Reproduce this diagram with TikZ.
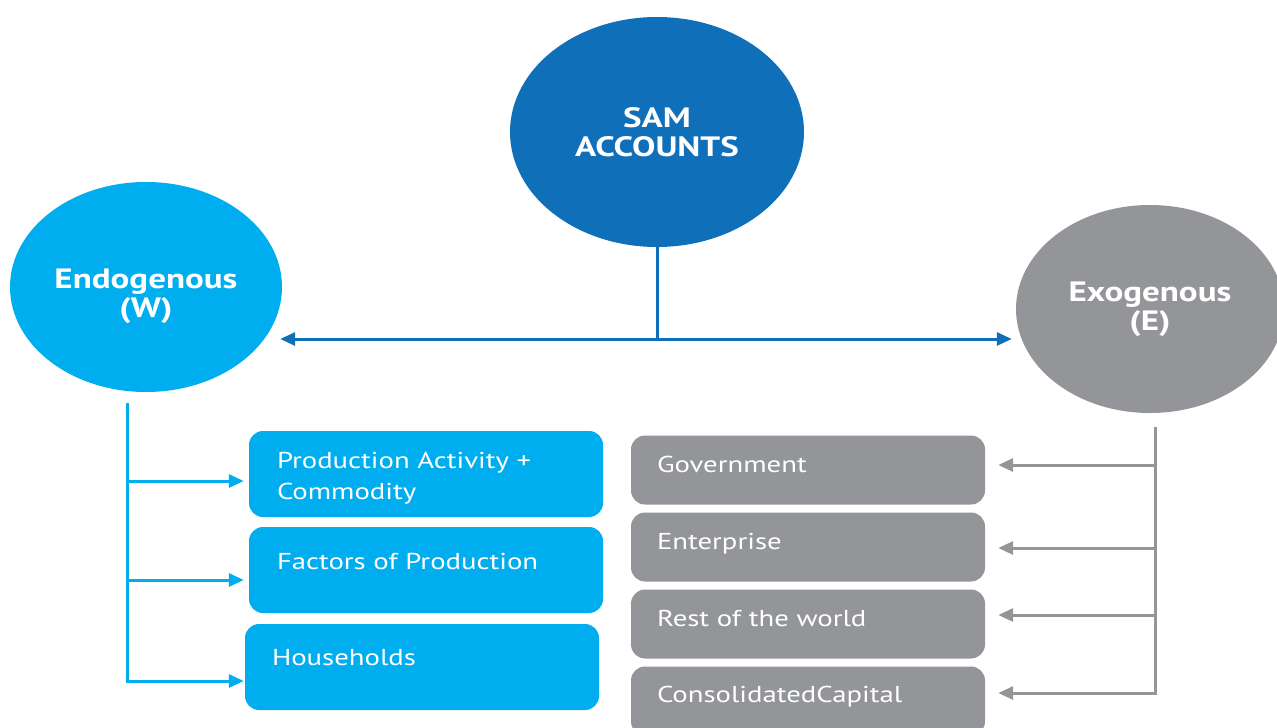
\documentclass[tikz,border=0pt]{standalone}
\usepackage{fontspec}
\setmainfont{PT Sans}[FakeStretch=1.25]
\usetikzlibrary{arrows.meta,shapes.geometric}

\definecolor{samblue}{RGB}{16,111,185}
\definecolor{endoblue}{RGB}{0,174,239}
\definecolor{exogray}{RGB}{147,149,152}

\begin{document}
\begin{tikzpicture}[x=1pt, y=-1pt,
    acct/.style={ellipse, fill=#1, inner sep=0pt},
    accttext/.style={text=white, align=center, inner sep=0pt,
                     font=\fontsize{28}{29}\selectfont\bfseries},
    accbox/.style={rectangle, rounded corners=14pt, fill=#1, inner sep=0pt, minimum width=354pt},
    boxtext/.style={anchor=base west, text=white, align=left, inner sep=0pt,
                    font=\fontsize{23}{31}\selectfont},
    link/.style={line width=3pt, draw=#1},
    tip/.style={-{Triangle[length=15pt,width=13pt]}}]
  \useasboundingbox (0,0) rectangle (1277,728);

  % the three account ellipses
  \node[acct=samblue, minimum width=294pt, minimum height=230pt] (sam)at(657, 132) {};
  \node[acct=endoblue, minimum width=272pt, minimum height=210pt] (endo)at(146, 287) {};
  \node[acct=exogray, minimum width=268pt, minimum height=208pt] (exo)at(1150, 309) {};
  \node[accttext] (samtxt)at(sam.center) {SAM\\ACCOUNTS};
  \node[accttext] (endotxt)at([yshift=-9pt]endo.center) {Endogenous\\(W)};
  \node[accttext] (exotxt)at(exo.center) {Exogenous\\(E)};

  % endogenous accounts
  \node[accbox=endoblue, minimum height=86pt] (prod)at(426, 474) {};
  \node[accbox=endoblue, minimum height=86pt] (fac)at(426, 570) {};
  \node[accbox=endoblue, minimum height=86pt] (hh)at(422, 667) {};
  \node[boxtext] (prodtxt)at([xshift=28pt, yshift=-69pt]prod.north west) {Production Activity +\\Commodity};
  \node[boxtext] (factxt)at([xshift=28pt, yshift=-43pt]fac.north west) {Factors of Production};
  \node[boxtext] (hhtxt)at([xshift=27pt, yshift=-42pt]hh.north west) {Households};

  % exogenous accounts
  \node[accbox=exogray, minimum height=69pt] (gov)at(808, 470) {};
  \node[accbox=exogray, minimum height=69pt] (ent)at(808, 547) {};
  \node[accbox=exogray, minimum height=69pt] (row)at(808, 624) {};
  \node[accbox=exogray, minimum height=69pt] (cap)at(808, 701) {};
  \node[boxtext] (govtxt)at([xshift=26pt, yshift=-37pt]gov.north west) {Government};
  \node[boxtext] (enttxt)at([xshift=26pt, yshift=-37pt]ent.north west) {Enterprise};
  \node[boxtext] (rowtxt)at([xshift=26pt, yshift=-37pt]row.north west) {Rest of the world};
  \node[boxtext] (captxt)at([xshift=26pt, yshift=-36pt]cap.north west) {ConsolidatedCapital};

  % split of the SAM into the two groups
  \coordinate (split) at (657, 339);
  \draw[link=samblue] (sam.south) -- (split);
  \draw[link=samblue, {Triangle[length=15pt,width=13pt]}-{Triangle[length=15pt,width=13pt]}]
    ([xshift=-2pt]endo.east |- split) -- ([xshift=-4pt]exo.west |- split);

  % endogenous tree
  \coordinate (wtop) at (127, 403);
  \coordinate (wbot) at (127, 683);
  \draw[link=endoblue] (wtop) -- (wbot);
  \foreach \acc/\dy/\dx in {prod/-7/-5, fac/-10/-5, hh/-14/-1}
    \draw[link=endoblue, tip] ([yshift=\dy pt]\acc.west -| wtop) -- ([xshift=\dx pt, yshift=\dy pt]\acc.west);

  % exogenous tree
  \coordinate (etop) at (1155, 427);
  \coordinate (ebot) at (1155, 695);
  \draw[link=exogray] (etop) -- (ebot);
  \foreach \acc/\dy in {gov/5, ent/-1, row/9, cap/8}
    \draw[link=exogray, tip] ([yshift=\dy pt]\acc.east -| etop) -- ([xshift=13pt, yshift=\dy pt]\acc.east);
\end{tikzpicture}
\end{document}
